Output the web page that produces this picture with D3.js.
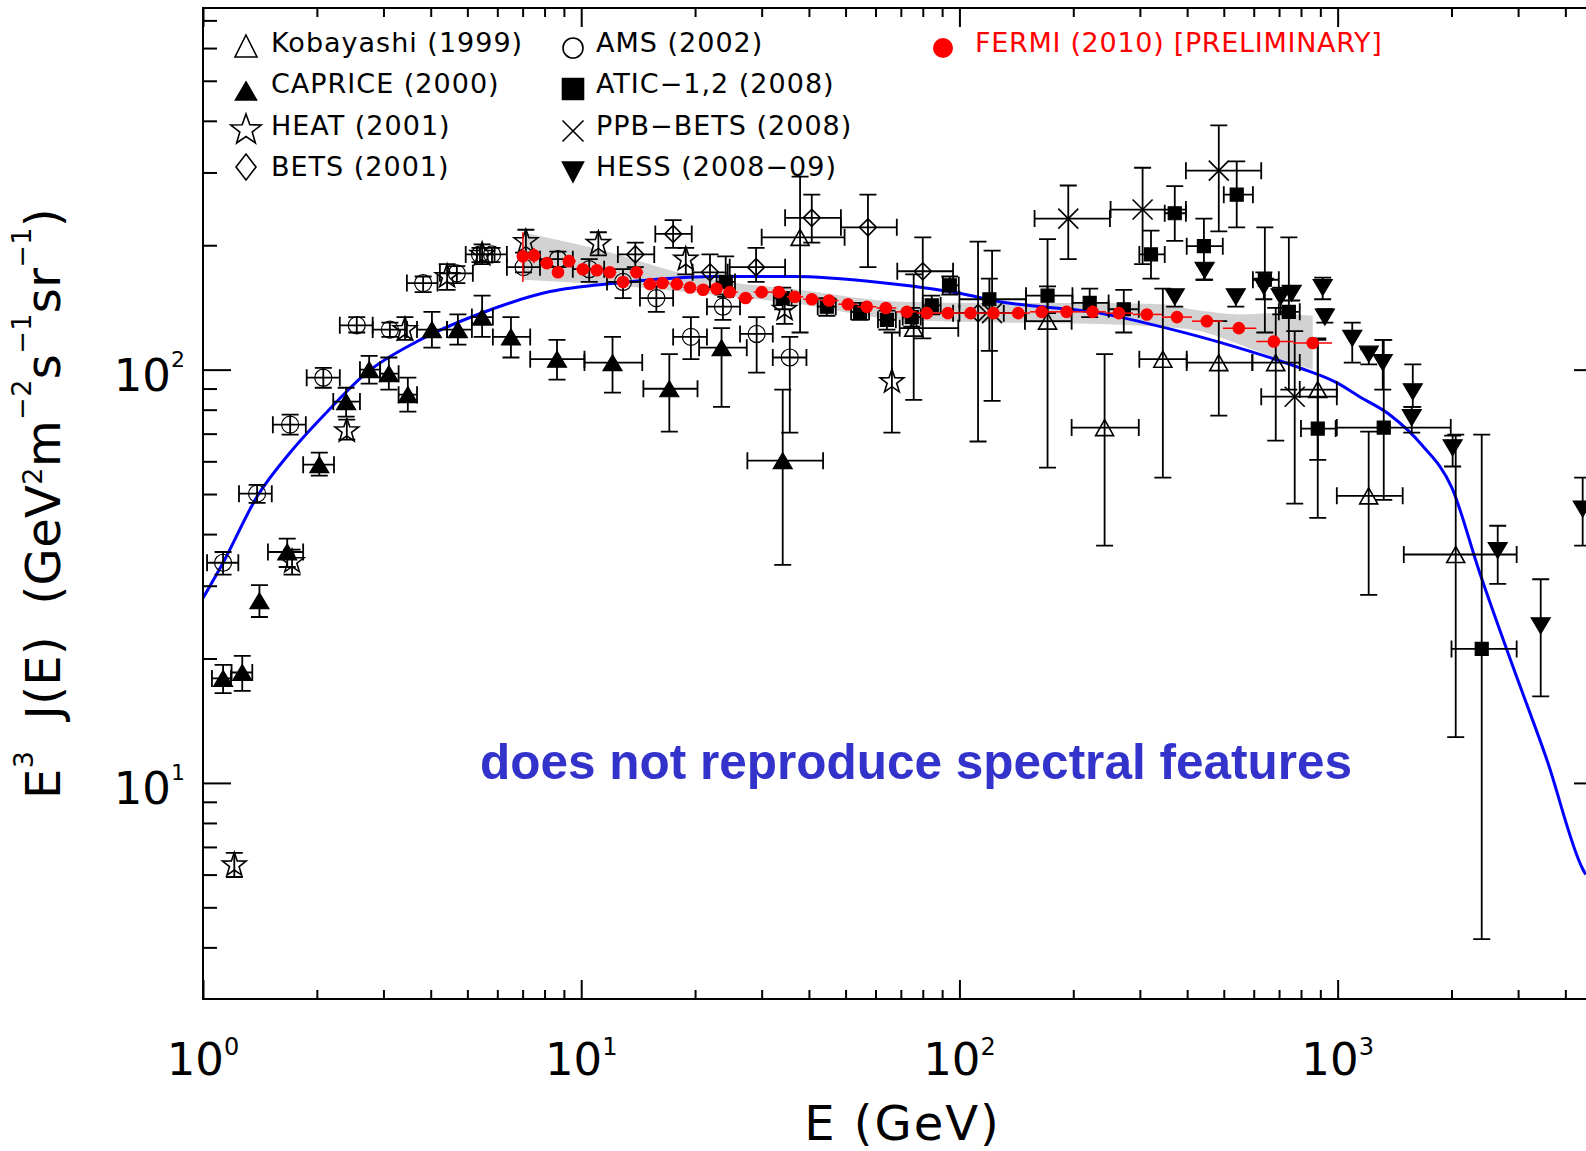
<!DOCTYPE html>
<html>
<head>
<meta charset="utf-8">
<script src="https://cdn.jsdelivr.net/npm/d3@7"></script>
<style>
  body { margin: 0; background: #fff; }
  svg { display: block; font-family: "DejaVu Sans", sans-serif; }
</style>
</head>
<body>
<div id="wrapper"></div>
<script>

// rows: [E, J, E low, E high, J low, J high]  (null = no bar drawn)
const kobayashiData = [
  [37.9, 209, 30.0, 49.7, 123, 293],
  [75.7, 126, 69.5, 99.3, 84.5, 170],
  [171, 131, 149, 198, 57.9, 207],
  [242, 72.4, 198, 298, 37.5, 109],
  [345, 106, 299, 399, 54.8, 157],
  [485, 104, 399, 595, 77.4, 131],
  [686, 104, 595, 794, 67.3, 141],
  [886, 89.5, 794, 995, 60.5, 119],
  [1208, 49.5, 995, 1486, 28.5, 70.8],
  [2052, 35.7, 1496, 2974, 12.9, 69.6],
]

const capriceData = [
  [1.13, 17.9, 1.056, 1.186, 16.5, 19.3],
  [1.27, 18.5, 1.19, 1.35, 16.7, 20.3],
  [1.41, 27.6, null, null, 25.2, 30.1],
  [1.67, 36.2, 1.485, 1.84, 33.3, 39.0],
  [2.03, 58.9, 1.84, 2.22, 55.4, 63.0],
  [2.39, 83.7, 2.21, 2.60, 77.0, 90.4],
  [2.75, 100, 2.60, 2.94, 92.5, 108],
  [3.10, 97.8, 2.94, 3.29, 89.5, 107],
  [3.48, 87.0, 3.29, 3.68, 79.1, 95.6],
  [4.03, 125, 3.68, 4.42, 113, 138],
  [4.72, 125, 4.42, 5.14, 115, 136],
  [5.47, 134, 5.14, 5.84, 120, 151],
  [6.52, 120, 5.84, 7.33, 107, 134],
  [8.63, 106, 7.33, 10.2, 94.6, 118],
  [12.1, 104, 10.2, 14.5, 88.0, 120],
  [17.1, 89.9, 14.6, 20.3, 70.8, 109],
  [23.5, 113, 20.5, 27.4, 81.3, 126],
  [34.1, 60.2, 27.5, 43.6, 33.7, 89.5],
]

const heatData = [
  [1.21, 6.33, null, null, 5.92, 6.77],
  [1.72, 34.3, null, null, 31.9, 36.7],
  [2.40, 71.1, null, null, 67.7, 75.7],
  [3.42, 125, null, null, 118, 134],
  [4.42, 168, null, null, 156, 180],
  [5.47, 190, null, null, 180, 201],
  [7.14, 204, null, null, 190, 218],
  [11.1, 202, null, null, 189, 215],
  [18.9, 185, null, null, 170, 197],
  [34.5, 140, null, null, 129, 149],
  [66.3, 93.5, null, null, 70.4, 123],
]

const betsData = [
  [13.9, 190, 12.5, 15.6, 177, 203],
  [17.5, 213, 15.7, 19.6, 197, 230],
  [21.9, 172, 19.7, 24.4, 158, 190],
  [29.0, 177, 24.7, 34.6, 163, 197],
  [40.7, 233, 34.6, 48.6, 203, 265],
  [57.3, 221, 48.6, 68.3, 177, 265],
  [80.0, 173, 68.5, 96.2, 119, 209],
  [112, 137, 96.2, 131, 67.0, 204],
]

const amsData = [
  [1.13, 34.1, 1.025, 1.24, 31.9, 36.2],
  [1.39, 50.1, 1.245, 1.52, 47.6, 52.6],
  [1.70, 73.6, 1.53, 1.87, 69.6, 77.8],
  [2.08, 95.6, 1.88, 2.30, 90.4, 101],
  [2.55, 128, 2.30, 2.81, 123, 134],
  [3.12, 125, 2.81, 3.46, 120, 130],
  [3.82, 162, 3.46, 4.17, 154, 168],
  [4.69, 171, 4.23, 5.17, 162, 178],
  [5.40, 190, 4.95, 5.90, 182, 197],
  [5.81, 190, 5.30, 6.36, 182, 197],
  [7.04, 177, 6.36, 7.78, 172, 192],
  [8.68, 185, 7.78, 9.50, 177, 193],
  [10.5, 175, 9.50, 11.5, 163, 185],
  [12.9, 163, 11.7, 14.3, 149, 175],
  [15.8, 149, 14.3, 17.5, 138, 159],
  [19.5, 120, 17.5, 21.5, 106, 134],
  [23.7, 142, 21.5, 26.3, 132, 152],
  [29.1, 122, 26.3, 32.1, 98.3, 134],
  [35.6, 107, 32.1, 39.4, 70.4, 120],
]

const aticData = [
  [24.1, 163, 22.8, 25.5, 150, 188],
  [34.1, 149, 32.3, 36.0, 140, 158],
  [44.6, 142, 42.2, 47.1, 135, 149],
  [54.6, 138, 51.7, 57.7, 132, 145],
  [64.3, 132, 60.9, 67.9, 125, 139],
  [74.8, 134, 70.8, 79.0, 127, 141],
  [84.5, 143, 80.0, 89.2, 136, 151],
  [94.3, 160, 90.4, 99.6, 152, 168],
  [120, 148, 100, 150, 111, 166],
  [171, 151, 150, 199, 137, 159],
  [221, 145, 199, 248, 134, 157],
  [272, 140, 248, 298, 123, 156],
  [321, 190, 299, 349, 166, 217],
  [371, 239, 349, 397, 205, 278],
  [443, 199, 399, 497, 165, 232],
  [541, 265, 500, 597, 221, 319],
  [642, 165, 597, 699, 123, 221],
  [743, 138, 699, 794, 89.5, 209],
  [886, 72.0, 800, 988, 43.8, 118],
  [1324, 72.4, 995, 1991, 48.4, 118],
  [2404, 21.1, 2000, 2974, 4.19, 69.6],
]

const ppbBetsData = [
  [122, 137, 100, 150, 84, 194],
  [194, 232, 158, 250, 185, 279],
  [305, 244, 251, 397, 180, 308],
  [485, 303, 397, 628, 216, 390],
  [770, 86.0, 628, 995, 47.4, 124],
]

const hessData = [
  [371, 150, null, null, 142, 156],
  [445, 174, null, null, 165, 179],
  [538, 150, null, null, 142, 156],
  [638, 159, null, null, 148, 172],
  [707, 150, null, null, 136, 158],
  [756, 153, null, null, 147, 159],
  [913, 158, null, null, 148, 167],
  [925, 134, null, null, 130, 140],
  [1093, 119, null, null, 104, 130],
  [1209, 109, null, null, 103, 112],
  [1316, 104, null, null, 89.5, 118],
  [1580, 88.4, null, null, 81.3, 103],
  [1570, 76.5, null, null, 70.4, 81.3],
  [2014, 64.7, null, null, 58.3, 69.2],
  [2650, 36.5, null, null, 30.3, 41.9],
  [3443, 24.0, null, null, 16.2, 31.1],
  [4445, 46.0, null, null, 37.5, 54.8],
]

const fermiE = [7.01, 7.50, 8.11, 8.68, 9.28, 10.1, 11.0, 11.9, 12.9, 14.0, 15.2, 16.4, 17.9, 19.4, 21.0,
  22.8, 24.7, 27.2, 30.0, 33.3, 36.7, 40.7, 45.2, 50.7, 56.9, 63.9, 72.6, 82.0, 93.2, 107,
  123, 143, 165, 192, 225, 264, 313, 376, 451, 548, 678, 859]
const fermiJ = [188, 189, 181, 172, 183, 175, 174, 172, 163, 172, 161, 162, 161, 158, 156,
  157, 154, 149, 154, 154, 150, 148, 147, 144, 142, 141, 138, 137, 137, 137,
  137, 137, 138, 138, 138, 137, 136, 134, 131, 126, 117, 116]
// the only fermi vertical bars that show outside the dots: [E, J low, J high]
const fermiVisibleErr = [[7.01, 163, 215], [7.50, 181, 197]]

// systematic band of the fermi spectrum
const bandE = [7.01, 11.2, 20.6, 37.9, 69.6, 128, 235, 339, 432, 551, 662, 859]
const bandHi = [215, 195, 167, 156, 146, 145, 145, 144, 139, 136, 137, 135]
const bandLo = [165, 161, 153, 144, 132, 130, 129, 127, 124, 115, 108, 100]

// model curve
const modelE = [1.00, 1.13, 1.39, 1.70, 2.13, 2.71, 3.68, 5.50, 8.27, 12.4, 22.3, 36.3, 61.6, 100, 128,
  235, 353, 528, 794, 994, 1143, 1373, 1668, 2004, 2376, 2902, 3572, 4446, 4530]
const modelJ = [28.0, 34.1, 49.3, 63.0, 79.1, 98.3, 117, 137.5, 154.5, 162, 168, 168, 162.5, 153, 146,
  137, 126, 114, 101, 93, 86, 77.8, 65.8, 51.8, 32.2, 19.2, 11.4, 6.19, 6.0]

const xMajorTicks = [1, 10, 100, 1000]
const xMinorTicks = [2, 3, 4, 5, 6, 7, 8, 9, 20, 30, 40, 50, 60, 70, 80, 90,
  200, 300, 400, 500, 600, 700, 800, 900, 2000, 3000, 4000]
const yMajorTicks = [10, 100]
const yMinorTicks = [4, 5, 6, 7, 8, 9, 20, 30, 40, 50, 60, 70, 80, 90, 200, 300, 400, 500, 600, 700]
const xTickExponents = ["0", "1", "2", "3"]
const yTickExponents = ["1", "2"]

const legendLeft = ["Kobayashi (1999)", "CAPRICE (2000)", "HEAT (2001)", "BETS (2001)"]
const legendRight = ["AMS (2002)", "ATIC-1,2 (2008)", "PPB-BETS (2008)", "HESS (2008-09)"]
const fermiLabel = "FERMI (2010) [PRELIMINARY]"
const noteText = "does not reproduce spectral features"

async function drawChart() {

  //..................................................
  // 1. dimensions

  let dimensions = {
    width: 1586,
    height: 1151,
    margin: { top: 8, left: 203 },
  }
  // the right side of the frame sits just past the picture edge
  dimensions.boundedWidth = 1399
  dimensions.boundedHeight = 991

  //..................................................
  // 2. canvas

  const wrapper = d3.select("#wrapper")
    .append("svg")
      .attr("width", dimensions.width)
      .attr("height", dimensions.height)

  wrapper.append("defs").append("clipPath")
      .attr("id", "plot-clip")
    .append("rect")
      .attr("width", dimensions.boundedWidth)
      .attr("height", dimensions.boundedHeight)

  const bounds = wrapper.append("g")
      .attr("transform", `translate(${dimensions.margin.left},${dimensions.margin.top})`)

  //..................................................
  // 3. scales

  const xScale = d3.scaleLog()
    .domain([1, 5000])
    .range([0, dimensions.boundedWidth])

  const yScale = d3.scaleLog()
    .domain([3, 750])
    .range([dimensions.boundedHeight, 0])

  //..................................................
  // 4. marker shapes

  const triUp = (w, h) => `M0,${-h / 2}L${w / 2},${h / 2}L${-w / 2},${h / 2}Z`
  const triDown = (w, h) => `M0,${h / 2}L${w / 2},${-h / 2}L${-w / 2},${-h / 2}Z`
  const square = s => `M${-s / 2},${-s / 2}h${s}v${s}h${-s}Z`
  const diamond = (w, h) => `M0,${-h / 2}L${w / 2},0L0,${h / 2}L${-w / 2},0Z`
  const cross = s => `M${-s},${-s}L${s},${s}M${-s},${s}L${s},${-s}`
  const circle = r => { const p = d3.path(); p.arc(0, 0, r, 0, 2 * Math.PI); return p.toString() }
  const star = (R, r) => {
    const pts = d3.range(10).map(i => {
      const a = -Math.PI / 2 + i * Math.PI / 5
      const rad = i % 2 ? r : R
      return [rad * Math.cos(a), rad * Math.sin(a)]
    })
    return "M" + pts.join("L") + "Z"
  }

  const seriesList = [
    { data: kobayashiData, marker: triUp(18, 16), fill: "none" },
    { data: capriceData, marker: triUp(19, 16), fill: "black" },
    { data: heatData, marker: star(12.5, 5), fill: "none" },
    { data: betsData, marker: diamond(17, 17), fill: "none" },
    { data: amsData, marker: circle(8.5), fill: "none" },
    { data: aticData, marker: square(13), fill: "black" },
    { data: ppbBetsData, marker: cross(10), fill: "none" },
    { data: hessData, marker: triDown(19, 16), fill: "black" },
  ]

  //..................................................
  // 5. draw data

  const plot = bounds.append("g")
      .attr("clip-path", "url(#plot-clip)")

  // grey systematic band
  const bandArea = d3.area()
    .x((d, i) => xScale(bandE[i]))
    .y0((d, i) => yScale(bandLo[i]))
    .y1((d, i) => yScale(bandHi[i]))
    .curve(d3.curveMonotoneX)

  plot.append("path")
      .datum(bandE)
      .attr("d", bandArea)
      .attr("fill", "#d2d2d2")

  // blue model curve
  const modelLine = d3.line()
    .x((d, i) => xScale(modelE[i]))
    .y((d, i) => yScale(modelJ[i]))
    .curve(d3.curveMonotoneX)

  plot.append("path")
      .datum(modelE)
      .attr("d", modelLine)
      .attr("fill", "none")
      .attr("stroke", "#0000ff")
      .attr("stroke-width", 3)

  const cap = 8.5

  seriesList.forEach(series => {
    const g = plot.append("g")
        .attr("stroke", "black")
        .attr("stroke-width", 1.8)

    const vBars = series.data.filter(d => d[4] != null)
    const hBars = series.data.filter(d => d[2] != null)

    g.selectAll(".vbar")
      .data(vBars)
      .join("path")
        .attr("class", "vbar")
        .attr("fill", "none")
        .attr("d", d => {
          const x = xScale(d[0]), y0 = yScale(d[4]), y1 = yScale(d[5])
          return `M${x},${y0}V${y1}M${x - cap},${y0}H${x + cap}M${x - cap},${y1}H${x + cap}`
        })

    g.selectAll(".hbar")
      .data(hBars)
      .join("path")
        .attr("class", "hbar")
        .attr("fill", "none")
        .attr("d", d => {
          const y = yScale(d[1]), x0 = xScale(d[2]), x1 = xScale(d[3])
          return `M${x0},${y}H${x1}M${x0},${y - cap}V${y + cap}M${x1},${y - cap}V${y + cap}`
        })

    g.selectAll(".marker")
      .data(series.data)
      .join("path")
        .attr("class", "marker")
        .attr("d", series.marker)
        .attr("fill", series.fill)
        .attr("stroke-width", series.marker.includes("L") && series.fill === "none" ? 1.6 : 1.2)
        .attr("transform", d => `translate(${xScale(d[0])},${yScale(d[1])})`)
  })

  // fermi points with bin widths
  const n = fermiE.length
  const fermiBins = fermiE.map((e, i) => {
    const lo = i > 0 ? Math.sqrt(e * fermiE[i - 1]) : e * Math.sqrt(e / fermiE[i + 1])
    const hi = i < n - 1 ? Math.sqrt(e * fermiE[i + 1]) : e * Math.sqrt(e / fermiE[i - 1])
    return { e, j: fermiJ[i], lo, hi }
  })

  const fermi = plot.append("g")

  fermi.selectAll(".fbin")
    .data(fermiBins)
    .join("line")
      .attr("class", "fbin")
      .attr("x1", d => xScale(d.lo))
      .attr("x2", d => xScale(d.hi))
      .attr("y1", d => yScale(d.j))
      .attr("y2", d => yScale(d.j))
      .attr("stroke", "red")
      .attr("stroke-width", 1.5)

  fermi.selectAll(".ferr")
    .data(fermiVisibleErr)
    .join("line")
      .attr("class", "ferr")
      .attr("x1", d => xScale(d[0]))
      .attr("x2", d => xScale(d[0]))
      .attr("y1", d => yScale(d[1]))
      .attr("y2", d => yScale(d[2]))
      .attr("stroke", "red")
      .attr("stroke-width", 1.5)

  fermi.selectAll("circle")
    .data(fermiBins)
    .join("circle")
      .attr("cx", d => xScale(d.e))
      .attr("cy", d => yScale(d.j))
      .attr("r", 6.3)
      .attr("fill", "red")

  //..................................................
  // 6. draw peripherals

  const tickStyle = g => g
    .call(g => g.select(".domain").remove())
    .call(g => g.selectAll("line").attr("stroke-width", 2))

  const bw = dimensions.boundedWidth
  const bh = dimensions.boundedHeight

  bounds.append("g").attr("transform", `translate(0,${bh})`)
    .call(d3.axisBottom(xScale).tickValues(xMinorTicks).tickSize(-9).tickFormat(""))
    .call(tickStyle)
  bounds.append("g").attr("transform", `translate(0,${bh})`)
    .call(d3.axisBottom(xScale).tickValues(xMajorTicks).tickSize(-19).tickFormat(""))
    .call(tickStyle)
  bounds.append("g")
    .call(d3.axisTop(xScale).tickValues(xMinorTicks).tickSize(-9).tickFormat(""))
    .call(tickStyle)
  bounds.append("g")
    .call(d3.axisTop(xScale).tickValues(xMajorTicks).tickSize(-19).tickFormat(""))
    .call(tickStyle)
  bounds.append("g")
    .call(d3.axisLeft(yScale).tickValues(yMinorTicks).tickSize(-14).tickFormat(""))
    .call(tickStyle)
  bounds.append("g")
    .call(d3.axisLeft(yScale).tickValues(yMajorTicks).tickSize(-28).tickFormat(""))
    .call(tickStyle)
  bounds.append("g").attr("transform", `translate(${bw},0)`)
    .call(d3.axisRight(yScale).tickValues(yMinorTicks).tickSize(-14).tickFormat(""))
    .call(tickStyle)
  bounds.append("g").attr("transform", `translate(${bw},0)`)
    .call(d3.axisRight(yScale).tickValues(yMajorTicks).tickSize(-28).tickFormat(""))
    .call(tickStyle)

  bounds.append("rect")
      .attr("width", bw)
      .attr("height", bh)
      .attr("fill", "none")
      .attr("stroke", "black")
      .attr("stroke-width", 2)

  // tick labels written as 10 with a raised exponent
  const xLabels = bounds.selectAll(".x-label")
    .data(xMajorTicks)
    .join("text")
      .attr("class", "x-label")
      .attr("x", d => xScale(d))
      .attr("y", bh + 76)
      .attr("text-anchor", "middle")
      .style("font-size", "45px")
  xLabels.append("tspan").text("10")
  xLabels.append("tspan")
      .attr("dy", -20)
      .style("font-size", "24px")
      .text((d, i) => xTickExponents[i])

  const yLabels = bounds.selectAll(".y-label")
    .data(yMajorTicks)
    .join("text")
      .attr("class", "y-label")
      .attr("x", -18)
      .attr("y", d => yScale(d) + 21)
      .attr("text-anchor", "end")
      .style("font-size", "45px")
  yLabels.append("tspan").text("10")
  yLabels.append("tspan")
      .attr("dy", -24)
      .style("font-size", "22px")
      .text((d, i) => yTickExponents[i])

  // axis titles
  wrapper.append("text")
      .attr("x", dimensions.margin.left + bw / 2)
      .attr("y", 1140)
      .attr("text-anchor", "middle")
      .style("font-size", "48px")
      .style("letter-spacing", "2px")
      .text("E (GeV)")

  const yTitle = wrapper.append("text")
      .attr("transform", `translate(60,${dimensions.margin.top + bh / 2}) rotate(-90)`)
      .attr("text-anchor", "middle")
      .style("font-size", "48px")
      .style("letter-spacing", "0.4px")
      .style("white-space", "pre")

  const titleParts = [
    ["E", 0], ["3", 27], ["  J(E)  (GeV", 0], ["2", 18], ["m", 0], ["\u22122", 29],
    ["s", 0], ["\u22121", 29], ["sr", 0], ["\u22121", 29], [")", 0],
  ]
  let lift = 0
  titleParts.forEach(([t, up]) => {
    yTitle.append("tspan")
        .attr("dy", lift - up)
        .style("font-size", up ? "27px" : "48px")
        .text(t)
    lift = up
  })

  //..................................................
  // 7. legend

  const legendSymbolsLeft = [triUp(22, 22), triUp(21, 18), star(16, 6.5), diamond(20, 26)]
  const legendFillLeft = ["none", "black", "none", "none"]
  const legendSymbolsRight = [circle(10), square(21), cross(10.5), triDown(21, 20)]
  const legendFillRight = ["none", "black", "none", "black"]
  const rowBase = [52, 93, 135, 176]
  const symbolYLeft = [46, 91, 130, 167]
  const symbolYRight = [48, 89, 131, 172]

  const legend = wrapper.append("g")
      .style("font-size", "27px")
      .style("letter-spacing", "1px")

  legendLeft.forEach((label, i) => {
    legend.append("path")
        .attr("d", legendSymbolsLeft[i])
        .attr("transform", `translate(246,${symbolYLeft[i]})`)
        .attr("fill", legendFillLeft[i])
        .attr("stroke", "black")
        .attr("stroke-width", 1.6)
    legend.append("text")
        .attr("x", 271)
        .attr("y", rowBase[i])
        .text(label)
  })

  legendRight.forEach((label, i) => {
    legend.append("path")
        .attr("d", legendSymbolsRight[i])
        .attr("transform", `translate(573,${symbolYRight[i]})`)
        .attr("fill", legendFillRight[i])
        .attr("stroke", "black")
        .attr("stroke-width", 1.6)
    legend.append("text")
        .attr("x", 596)
        .attr("y", rowBase[i])
        .text(label.replace("-", "\u2212"))
  })

  legend.append("circle")
      .attr("cx", 943)
      .attr("cy", 48)
      .attr("r", 10)
      .attr("fill", "red")
  legend.append("text")
      .attr("x", 975)
      .attr("y", 52)
      .attr("fill", "red")
      .style("letter-spacing", "0.7px")
      .text(fermiLabel)

  //..................................................
  // 8. note

  wrapper.append("text")
      .attr("x", 480)
      .attr("y", 779)
      .attr("fill", "#3333cc")
      .style("font-family", "'Liberation Sans', Arial, sans-serif")
      .style("font-weight", "bold")
      .style("font-size", "49.5px")
      .text(noteText)
}
drawChart()
</script>
</body>
</html>
